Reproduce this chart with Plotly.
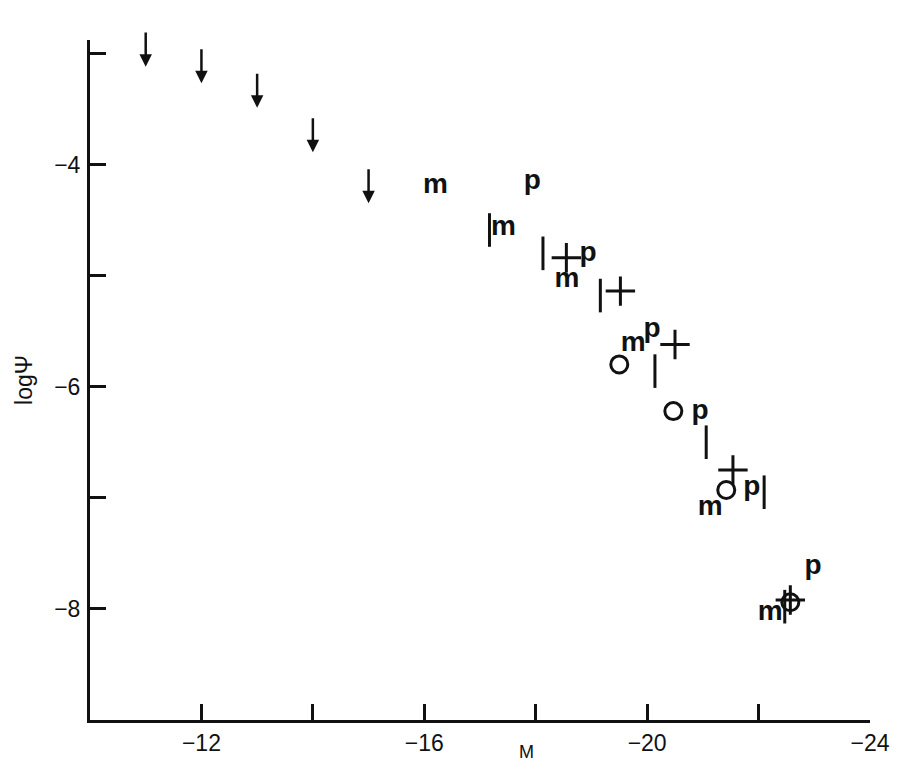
import plotly.graph_objects as go

# Upper limits (arrows): magnitude M and top of arrow (log Psi)
arrow_M = [-11.0, -12.0, -13.0, -14.0, -15.0]
arrow_top = [-2.80, -2.95, -3.17, -3.57, -4.03]
ARROW_LEN = 0.32

# Symbol groups
m_M = [-16.20, -17.42, -18.56, -19.75, -21.13, -22.21]
m_psi = [-4.19, -4.57, -5.04, -5.62, -7.09, -8.04]

p_M = [-17.94, -18.94, -20.09, -20.95, -21.88, -22.98]
p_psi = [-4.16, -4.81, -5.49, -6.23, -6.91, -7.62]

plus_M = [-18.55, -19.52, -20.50, -21.54, -22.57]
plus_psi = [-4.84, -5.14, -5.62, -6.75, -7.92]

circ_M = [-19.50, -20.47, -21.42, -22.57]
circ_psi = [-5.80, -6.22, -6.93, -7.94]

bar_M = [-17.17, -18.13, -19.16, -20.14, -21.06, -22.10, -22.47]
bar_psi = [-4.59, -4.80, -5.18, -5.86, -6.50, -6.95, -7.98]

x_tickvals = [-12, -14, -16, -18, -20, -22, -24]
x_ticktext = ["\u221212", "", "\u221216", "", "\u221220", "", "\u221224"]
y_tickvals = [-3, -4, -5, -6, -7, -8]
y_ticktext = ["", "\u22124", "", "\u22126", "", "\u22128"]

FONT = "Liberation Sans, Arial, sans-serif"
BLACK = "#111111"

fig = go.Figure()

fig.add_trace(go.Scatter(
    x=m_M, y=m_psi, mode="text", text=["m"] * len(m_M),
    textfont=dict(family=FONT, size=28, color=BLACK, weight="bold"),
    textposition="middle center", showlegend=False, hoverinfo="skip"))
fig.add_trace(go.Scatter(
    x=p_M, y=p_psi, mode="text", text=["p"] * len(p_M),
    textfont=dict(family=FONT, size=28, color=BLACK, weight="bold"),
    textposition="middle center", showlegend=False, hoverinfo="skip"))
fig.add_trace(go.Scatter(
    x=plus_M, y=plus_psi, mode="markers",
    marker=dict(symbol="cross-thin-open", size=21, color=BLACK,
                line=dict(width=3, color=BLACK)),
    showlegend=False, hoverinfo="skip"))
fig.add_trace(go.Scatter(
    x=circ_M, y=circ_psi, mode="markers",
    marker=dict(symbol="circle-open", size=17, color=BLACK,
                line=dict(width=3, color=BLACK)),
    showlegend=False, hoverinfo="skip"))
fig.add_trace(go.Scatter(
    x=bar_M, y=bar_psi, mode="markers",
    marker=dict(symbol="line-ns-open", size=24, color=BLACK,
                line=dict(width=3, color=BLACK)),
    showlegend=False, hoverinfo="skip"))

for xm, yt in zip(arrow_M, arrow_top):
    fig.add_annotation(
        x=xm, y=yt - ARROW_LEN, ax=xm, ay=yt, axref="x", ayref="y",
        xref="x", yref="y", showarrow=True, arrowhead=2, arrowsize=1.0,
        arrowwidth=2.5, arrowcolor=BLACK, text="")

# x-axis title "M" (placed right of centre, as in the original)
fig.add_annotation(
    text="M", xref="paper", yref="paper", x=0.559, y=-0.047,
    xanchor="center", yanchor="middle", showarrow=False,
    font=dict(family=FONT, size=18, color=BLACK))

fig.update_xaxes(
    range=[-10, -24], showline=True, linewidth=3, linecolor=BLACK,
    ticks="inside", ticklen=16, tickwidth=3, tickcolor=BLACK,
    tickvals=x_tickvals, ticktext=x_ticktext, showgrid=False, zeroline=False,
    tickfont=dict(family=FONT, size=23, color=BLACK), automargin=False,
    mirror=False)
fig.update_yaxes(
    range=[-9, -2.88], showline=True, linewidth=3, linecolor=BLACK,
    ticks="inside", ticklen=16, tickwidth=3, tickcolor=BLACK,
    tickvals=y_tickvals, ticktext=y_ticktext, showgrid=False, zeroline=False,
    tickfont=dict(family=FONT, size=23, color=BLACK), ticklabelstandoff=2,
    automargin=False,
    title=dict(text="log\u03a8", font=dict(family=FONT, size=23, color=BLACK), standoff=16),
    mirror=False)

fig.update_layout(
    width=897, height=775,
    margin=dict(l=90, r=27, t=40, b=55),
    paper_bgcolor="white", plot_bgcolor="white",
    showlegend=False)

fig.write_html("out.html")
